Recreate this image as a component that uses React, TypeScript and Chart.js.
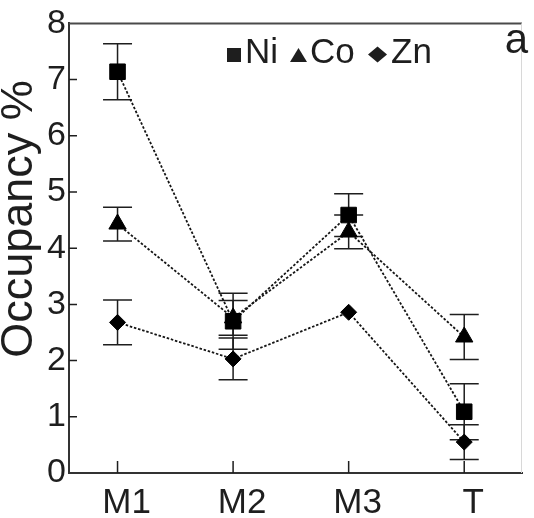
import React, { useEffect, useRef } from 'react';
import { Chart, registerables } from 'chart.js';

Chart.register(...registerables);

const categories = ['M1', 'M2', 'M3', 'T'];
const niValues = [7.14, 2.7, 4.59, 1.09];
const niErrors = [0.5, 0.5, 0.38, 0.5];
const coValues = [4.43, 2.76, 4.29, 2.42];
const coErrors = [0.3, 0.31, 0.3, 0.4];
const znValues = [2.68, 2.03, 2.86, 0.55];
const znErrors = [0.4, 0.37, 0, 0.31];
const yTickValues = [0, 1, 2, 3, 4, 5, 6, 7, 8];
const legendLabels = ['Ni', 'Co', 'Zn'];
const yTitle = 'Occupancy %';
const panelLabel = 'a';

const FONT = '"Liberation Sans", Arial, sans-serif';
const INK = '#1e1e1e';

const errorsBySeries = [niErrors, coErrors, znErrors];

const decorPlugin = {
  id: 'decor',
  beforeDatasetsDraw(chart: any) {
    const ctx = chart.ctx;
    const xs = chart.scales.x;
    const ys = chart.scales.y;
    ctx.save();
    ctx.strokeStyle = INK;
    ctx.lineWidth = 1.5;
    chart.data.datasets.forEach((ds: any, di: number) => {
      const errs = errorsBySeries[di];
      ds.data.forEach((pt: any, i: number) => {
        const e = errs[i];
        if (!e) return;
        const px = xs.getPixelForValue(pt.x);
        const top = ys.getPixelForValue(pt.y + e);
        const bot = ys.getPixelForValue(pt.y - e);
        ctx.beginPath();
        ctx.moveTo(px, top);
        ctx.lineTo(px, bot);
        ctx.moveTo(px - 14.5, top);
        ctx.lineTo(px + 14.5, top);
        ctx.moveTo(px - 14.5, bot);
        ctx.lineTo(px + 14.5, bot);
        ctx.stroke();
      });
    });
    ctx.restore();
  },
  afterDraw(chart: any) {
    const ctx = chart.ctx;
    const area = chart.chartArea;
    const xs = chart.scales.x;
    const ys = chart.scales.y;
    ctx.save();
    // frame top / right
    ctx.strokeStyle = '#4a4a4a';
    ctx.lineWidth = 2;
    ctx.beginPath();
    ctx.moveTo(area.left, area.top);
    ctx.lineTo(area.right, area.top);
    ctx.stroke();
    ctx.strokeStyle = '#d8d8d8';
    ctx.lineWidth = 1;
    ctx.beginPath();
    ctx.moveTo(area.right - 0.5, area.top);
    ctx.lineTo(area.right - 0.5, area.bottom);
    ctx.stroke();
    // inward ticks
    ctx.strokeStyle = INK;
    ctx.lineWidth = 1.5;
    ctx.beginPath();
    yTickValues.forEach((v) => {
      if (v === 0 || v === 8) return;
      const py = ys.getPixelForValue(v);
      ctx.moveTo(area.left, py);
      ctx.lineTo(area.left + 8, py);
    });
    categories.forEach((_, i) => {
      const px = xs.getPixelForValue(i + 1);
      ctx.moveTo(px, area.bottom);
      ctx.lineTo(px, area.bottom - 12);
    });
    ctx.stroke();
    // y title
    ctx.fillStyle = INK;
    ctx.font = `45px ${FONT}`;
    ctx.textAlign = 'center';
    ctx.textBaseline = 'alphabetic';
    ctx.save();
    ctx.translate(32, 219);
    ctx.rotate(-Math.PI / 2);
    ctx.fillText(yTitle, 0, 0);
    ctx.restore();
    // panel label
    ctx.font = `42px ${FONT}`;
    ctx.textAlign = 'right';
    ctx.fillText(panelLabel, 528, 53);
    // legend
    ctx.font = `35px ${FONT}`;
    ctx.textAlign = 'left';
    const base = 63;
    ctx.fillRect(227, 48, 14, 14);
    ctx.fillText(legendLabels[0], 245, base);
    ctx.beginPath();
    ctx.moveTo(298.5, 48);
    ctx.lineTo(307, 62);
    ctx.lineTo(290, 62);
    ctx.closePath();
    ctx.fill();
    ctx.fillText(legendLabels[1], 310, base);
    ctx.beginPath();
    ctx.moveTo(377.5, 46.5);
    ctx.lineTo(387, 54.5);
    ctx.lineTo(377.5, 62.5);
    ctx.lineTo(368, 54.5);
    ctx.closePath();
    ctx.fill();
    ctx.fillText(legendLabels[2], 391, base);
    ctx.restore();
  },
};

function toPoints(values: number[]) {
  return values.map((v, i) => ({ x: i + 1, y: v }));
}

export default function App() {
  const canvasRef = useRef<HTMLCanvasElement | null>(null);

  useEffect(() => {
    document.body.style.margin = '0';
    const canvas = canvasRef.current;
    if (!canvas) return;
    const lineCommon = {
      borderColor: '#151515',
      borderWidth: 1.8,
      borderDash: [2.5, 1.8],
      backgroundColor: '#000',
      pointBackgroundColor: '#000',
      pointBorderColor: '#000',
      pointBorderWidth: 1,
      fill: false,
      tension: 0,
    };
    const chart = new Chart(canvas, {
      type: 'line',
      data: {
        datasets: [
          { ...lineCommon, label: legendLabels[0], data: toPoints(niValues), pointStyle: 'rect', pointRadius: 11 },
          { ...lineCommon, label: legendLabels[1], data: toPoints(coValues), pointStyle: 'triangle', pointRadius: 10 },
          { ...lineCommon, label: legendLabels[2], data: toPoints(znValues), pointStyle: 'rectRot', pointRadius: 8 },
        ],
      },
      options: {
        responsive: false,
        maintainAspectRatio: false,
        animation: false,
        devicePixelRatio: 1,
        layout: { padding: { top: 19, right: 1, left: 0, bottom: 0 } },
        plugins: {
          legend: { display: false },
          tooltip: { enabled: false },
          title: { display: false },
        },
        scales: {
          x: {
            type: 'linear',
            min: 0.58,
            max: 4.5,
            afterBuildTicks: (scale: any) => {
              scale.ticks = categories.map((_, i) => ({ value: i + 1 }));
            },
            afterFit: (scale: any) => {
              scale.height = 45;
            },
            grid: { display: true, drawOnChartArea: false, drawTicks: false },
            border: { display: true, color: '#333', width: 2 },
            ticks: {
              autoSkip: false,
              maxRotation: 0,
              padding: 9,
              labelOffset: 9,
              color: INK,
              font: { family: FONT, size: 35 },
              callback: (v: any) => categories[Number(v) - 1] ?? '',
            },
          },
          y: {
            type: 'linear',
            min: 0,
            max: 8,
            afterBuildTicks: (scale: any) => {
              scale.ticks = yTickValues.map((v) => ({ value: v }));
            },
            afterFit: (scale: any) => {
              scale.width = 69;
            },
            grid: { display: true, drawOnChartArea: false, drawTicks: false },
            border: { display: true, color: '#333', width: 2 },
            ticks: {
              padding: 3,
              color: INK,
              font: { family: FONT, size: 34 },
              callback: (v: any) => String(v),
            },
          },
        },
      },
      plugins: [decorPlugin],
    });
    return () => chart.destroy();
  }, []);

  return (
    <div style={{ width: 534, height: 518 }}>
      <canvas ref={canvasRef} width={534} height={518} style={{ display: 'block' }} />
    </div>
  );
}
